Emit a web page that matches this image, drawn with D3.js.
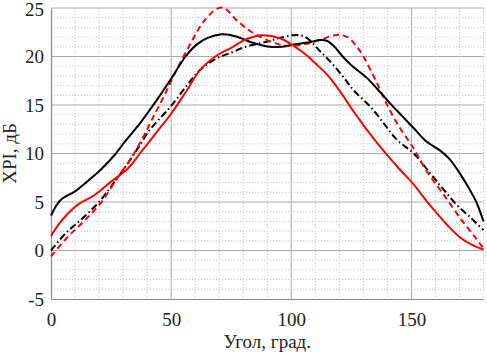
<!DOCTYPE html>
<html><head><meta charset="utf-8">
<script src="https://cdn.jsdelivr.net/npm/d3@7"></script>
<style>
html,body{margin:0;padding:0;background:#fff;}
svg{display:block;}
text{font-family:"Liberation Serif","Times New Roman",serif;fill:#222;}
</style></head>
<body><svg id="c" width="487" height="353"></svg>
<script>
// ---- data ----
const xTicks = [0, 50, 100, 150];
const yTicks = [-5, 0, 5, 10, 15, 20, 25];
const xLabel = "Угол, град.";
const yLabel = "ХРI, дБ";

const blackSolidX = [0,4,10,15,21,27,31,37,44,50,56,61,65,71,75,79,83,87,91,96,100,104,108,112,115,118,121,125,131,136,141,146,151,156,162,166,170,174,177,180];
const blackSolidY = [3.6,5.2,6.1,7.1,8.4,10.0,11.3,13.1,15.5,17.7,20.0,21.3,21.9,22.3,22.2,21.9,21.5,21.2,21.0,21.0,21.2,21.35,21.5,21.7,21.6,21.0,20.1,19.1,17.9,16.6,15.2,13.9,12.6,11.3,10.3,9.4,8.0,6.4,5.0,3.0];

const blackDashX = [0,6,13,20,26.5,32,36,41,46,50,56.5,62,69,75,81,86,91,95,101,105,108,111,115,119,123,126,133,138.5,144,151,158,163,168.5,175,180];
const blackDashY = [0,1.75,3.3,5.0,7.1,9.0,10.5,12.4,13.8,14.9,17.0,18.6,19.8,20.4,21.0,21.3,21.6,21.9,22.2,22.1,21.6,20.8,19.8,18.7,17.45,16.5,14.8,13.1,11.4,10.0,7.9,6.4,4.8,3.3,2.1];

const redSolidX = [0,4,11,18,25,32,37,44,50,56.5,62,69,75,81.5,88,95,101,106,110,115,120,126,131,138,145,151,156,160,165,170,175,180];
const redSolidY = [1.5,2.95,4.7,5.7,7.1,8.45,10.0,12.2,14.1,16.5,18.6,20.1,20.9,21.8,22.2,21.9,21.1,20.2,19.3,18.1,16.5,14.3,12.6,10.4,8.4,6.8,5.2,4.0,2.6,1.4,0.6,0.1];

const redDashX = [0,7,14,21,27,33,38,42,47,52,58,63.5,69,72,77,83,88,93,98,104,108,113,118,121,124,127,130,135,139.5,145,150.5,156,163,171,177,180];
const redDashY = [-0.6,1.4,3.1,5.0,7.25,9.4,11.5,13.5,15.9,18.5,21.3,23.6,24.9,25.0,23.8,22.6,21.9,21.4,21.1,21.2,21.4,21.8,22.2,22.2,21.9,21.1,20.0,17.6,15.2,12.7,10.7,8.3,5.9,3.1,1.2,0.2];

// ---- layout ----
const svg = d3.select("#c");
const L = 51, R = 483.5, T = 8, B = 299;
const x = d3.scaleLinear().domain([0,180]).range([L,R]);
const y = d3.scaleLinear().domain([-5,25]).range([B,T]);

// minor grid
const g = svg.append("g");
const minorX = d3.range(0,181,10).filter(v => v % 50 !== 0);
const minorY = d3.range(-5,26,1).filter(v => v % 5 !== 0);
g.selectAll(".mx").data(minorX).enter().append("line")
  .attr("x1",d=>x(d)).attr("x2",d=>x(d)).attr("y1",T).attr("y2",B)
  .attr("stroke","#c4c4c4").attr("stroke-width",1).attr("stroke-dasharray","1,2");
g.selectAll(".my").data(minorY).enter().append("line")
  .attr("x1",L).attr("x2",R).attr("y1",d=>y(d)).attr("y2",d=>y(d))
  .attr("stroke","#c4c4c4").attr("stroke-width",1).attr("stroke-dasharray","1,2");
// major grid
g.selectAll(".Mx").data(xTicks.filter(v=>v>0)).enter().append("line")
  .attr("x1",d=>x(d)).attr("x2",d=>x(d)).attr("y1",T).attr("y2",B)
  .attr("stroke","#aaaaaa").attr("stroke-width",1);
g.selectAll(".My").data(yTicks.filter(v=>v>-5)).enter().append("line")
  .attr("x1",L).attr("x2",R).attr("y1",d=>y(d)).attr("y2",d=>y(d))
  .attr("stroke","#aaaaaa").attr("stroke-width",1);

// axes
const fmt = d => String(d);
const xAxis = d3.axisBottom(x).tickValues(xTicks).tickFormat(fmt).tickSize(0).tickPadding(14);
const yAxis = d3.axisLeft(y).tickValues(yTicks).tickFormat(fmt).tickSize(0).tickPadding(7);
const gx = svg.append("g").attr("transform",`translate(0,${B})`).call(xAxis);
const gy = svg.append("g").attr("transform",`translate(${L},0)`).call(yAxis);
[gx,gy].forEach(a=>{
  a.select(".domain").attr("stroke","#888").attr("stroke-width",1.2);
  a.selectAll("text").attr("font-size",19).attr("font-family","Liberation Serif, serif").attr("fill","#222");
});
gy.selectAll("text").filter(d=>d===25).attr("dy","0.42em");

// lines
const line = d3.line().x(d=>x(d[0])).y(d=>y(d[1])).curve(d3.curveCatmullRom.alpha(0.5));
const zip = (a,b)=>a.map((v,i)=>[v,b[i]]);
const series = [
  {d: zip(blackDashX,blackDashY), c:"#000", dash:"7,3,1.5,3"},
  {d: zip(redDashX,redDashY), c:"#ff0000", dash:"6,4"},
  {d: zip(blackSolidX,blackSolidY), c:"#000", dash:null},
  {d: zip(redSolidX,redSolidY), c:"#ff0000", dash:null},
];
series.forEach(s=>{
  svg.append("path").datum(s.d).attr("d",line).attr("fill","none")
    .attr("stroke",s.c).attr("stroke-width",2)
    .attr("stroke-dasharray",s.dash);
});

// axis labels
svg.append("text").attr("x",(L+R)/2).attr("y",348).attr("text-anchor","middle")
  .attr("font-size",19).text(xLabel);
svg.append("text").attr("transform",`translate(16,${(T+B)/2}) rotate(-90)`)
  .attr("text-anchor","middle").attr("font-size",19).text(yLabel);
</script></body></html>
